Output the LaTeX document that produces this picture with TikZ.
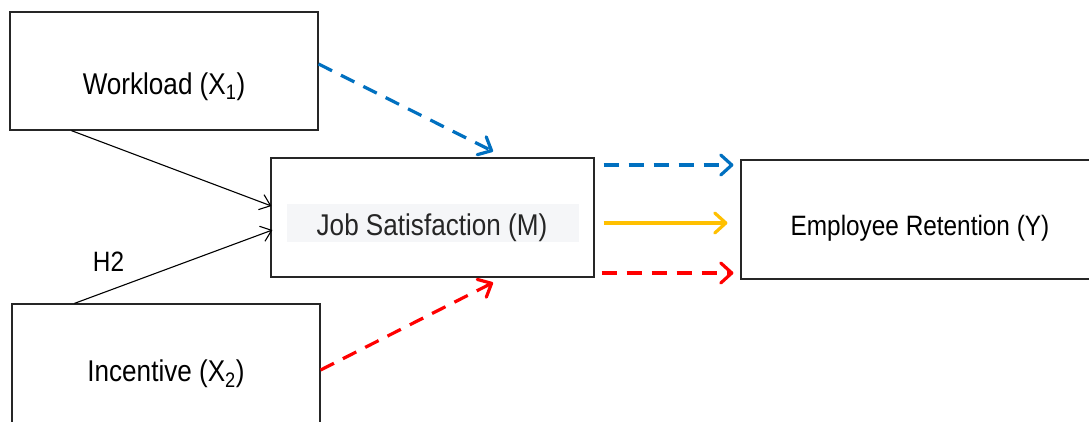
\documentclass[tikz,border=0pt]{standalone}
\usepackage{fontspec}
\setmainfont{Liberation Sans}[FakeStretch=0.87]
\usetikzlibrary{arrows.meta,calc}
\definecolor{cblue}{HTML}{0070C0}
\definecolor{cyel}{HTML}{FFC000}
\definecolor{cred}{HTML}{FF0000}
\definecolor{jsbg}{HTML}{F5F6F8}
\begin{document}
\begin{tikzpicture}[x=1pt,y=-1pt,
  box/.style={draw=black!85,line width=1.2pt,inner sep=0pt,rectangle},
  lbl/.style={inner sep=0pt,anchor=base,text=black},
  colarrow/.style={line width=3.2pt,line cap=butt,
    -{Straight Barb[length=11pt,width=20pt,line cap=round,line join=round]}},
  dashy/.style={dash pattern=on 15pt off 10pt},
  thinarrow/.style={line width=1.1pt,
    -{Straight Barb[length=10pt,width=16pt]}}]
\clip (0,0) rectangle (1089,421);
\fill[white] (0,0) rectangle (1089,421);
% boxes
\node[box,minimum width=308pt,minimum height=118pt] (wl) at (164,71) {};
\node[box,minimum width=308pt,minimum height=132pt] (inc) at (166,370) {};
\node[box,minimum width=323pt,minimum height=119pt] (js) at (432.5,217.5) {};
\node[box,minimum width=358pt,minimum height=119pt] (er) at (920,219.5) {};
% labels
\node[lbl,font=\fontsize{30}{34}\selectfont] (wlt) at (164,94) {Workload (X\textsubscript{1})};
\node[lbl,font=\fontsize{30}{34}\selectfont] (inct) at (166,381) {Incentive (X\textsubscript{2})};
\node[fill=jsbg,inner sep=0pt,minimum width=292pt,minimum height=38pt] (jsbgn) at (433,223) {};
\node[lbl,font=\fontsize{30}{34}\selectfont,text=black!85] (jst) at (432,235) {Job Satisfaction (M)};
\node[lbl,font=\fontsize{28}{32}\selectfont] (ert) at (920,235) {Employee Retention (Y)};
\node[lbl,font=\fontsize{28}{32}\selectfont] (h2) at (108.5,271) {H2};
% black arrows
\draw[thinarrow] ($(wl.south west)+(62,0)$) -- ($(js.west)+(1,-11.5)$);
\draw[thinarrow] ($(inc.north west)+(63,0)$) -- ($(js.west)+(2,12.5)$);
% coloured arrows
\draw[colarrow,dashy,cblue] ($(wl.east)+(0,-7)$) -- ($(js.north)+(60.5,-6)$);
\draw[colarrow,dashy,cred] (inc.east) -- ($(js.south)+(60.5,5)$);
\draw[colarrow,dashy,cblue] ($(js.east)+(9,-52.5)$) -- ($(er.west)+(-7,-54.5)$);
\draw[colarrow,cyel] ($(js.east)+(9,5.5)$) -- ($(er.west)+(-13,3.5)$);
\draw[colarrow,dashy,cred] ($(js.east)+(7,55.5)$) -- ($(er.west)+(-7,53.5)$);
\end{tikzpicture}
\end{document}
